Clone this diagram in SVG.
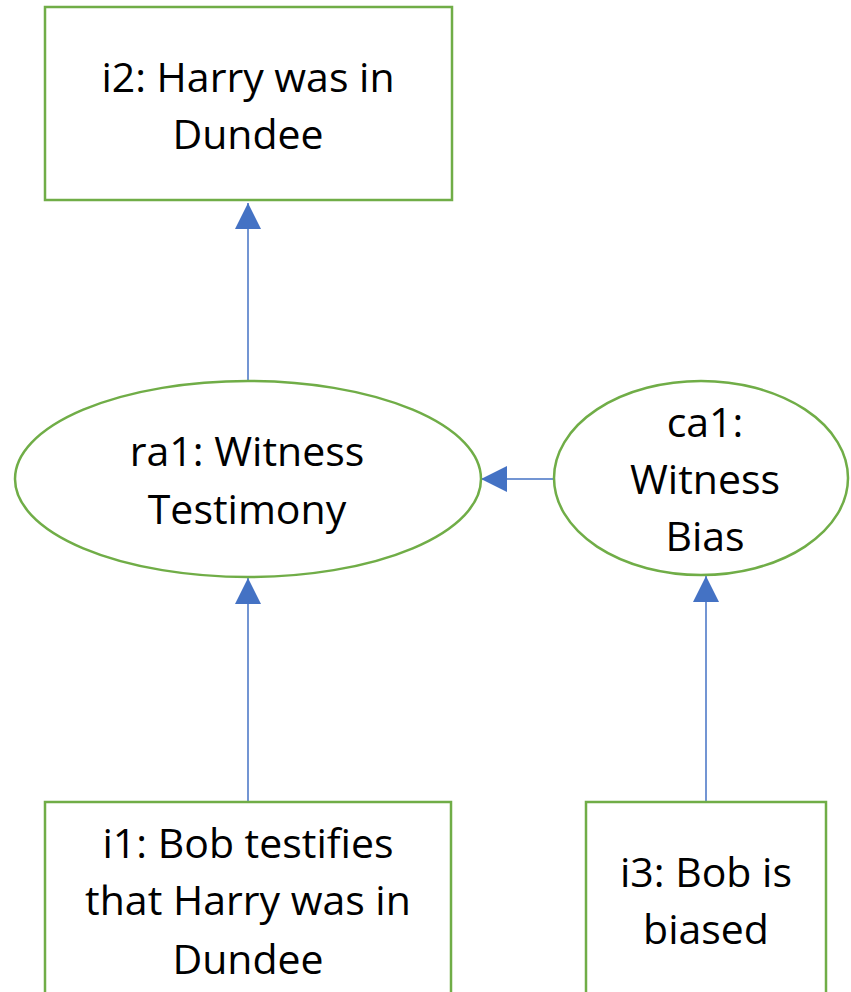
<svg xmlns="http://www.w3.org/2000/svg" width="851" height="992" viewBox="0 0 851 992">
  <style>
    .box { fill: #ffffff; stroke: #70AD47; stroke-width: 2.5; }
    .edge { fill: none; stroke: #4472C4; stroke-width: 1.5; }
    .label { font-family: "Open Sans", Lato, "Liberation Sans", sans-serif; font-size: 41px; fill: #000000; text-anchor: middle; }
  </style>
  <defs>
    <marker id="arrow" viewBox="0 0 26 26" refX="26" refY="13" markerWidth="26" markerHeight="26" markerUnits="userSpaceOnUse" orient="auto">
      <path d="M0,0 L26,13 L0,26 Z" fill="#4472C4"/>
    </marker>
  </defs>
  <rect width="851" height="992" fill="#ffffff"/>

  <g id="connectors">
    <line class="edge" x1="248" y1="381" x2="248" y2="203" marker-end="url(#arrow)"/>
    <line class="edge" x1="554" y1="479" x2="481" y2="479" marker-end="url(#arrow)"/>
    <line class="edge" x1="248" y1="802" x2="248" y2="578" marker-end="url(#arrow)"/>
    <line class="edge" x1="706" y1="802" x2="706" y2="576" marker-end="url(#arrow)"/>
  </g>

  <g id="i2">
    <rect class="box" x="45" y="7" width="407" height="193"/>
    <text class="label" x="248" y="92">i2: Harry was in</text>
    <text class="label" x="248" y="149">Dundee</text>
  </g>

  <g id="ra1">
    <ellipse class="box" cx="248" cy="479" rx="233" ry="98"/>
    <text class="label" x="247" y="466">ra1: Witness</text>
    <text class="label" x="247" y="524">Testimony</text>
  </g>

  <g id="ca1">
    <ellipse class="box" cx="701" cy="478" rx="147" ry="97"/>
    <text class="label" x="705" y="437">ca1:</text>
    <text class="label" x="705" y="494">Witness</text>
    <text class="label" x="705" y="551">Bias</text>
  </g>

  <g id="i1">
    <rect class="box" x="45" y="802" width="406" height="200"/>
    <text class="label" x="248" y="858">i1: Bob testifies</text>
    <text class="label" x="248" y="915">that Harry was in</text>
    <text class="label" x="248" y="974">Dundee</text>
  </g>

  <g id="i3">
    <rect class="box" x="586" y="802" width="240" height="200"/>
    <text class="label" x="706" y="887">i3: Bob is</text>
    <text class="label" x="706" y="944">biased</text>
  </g>
</svg>
